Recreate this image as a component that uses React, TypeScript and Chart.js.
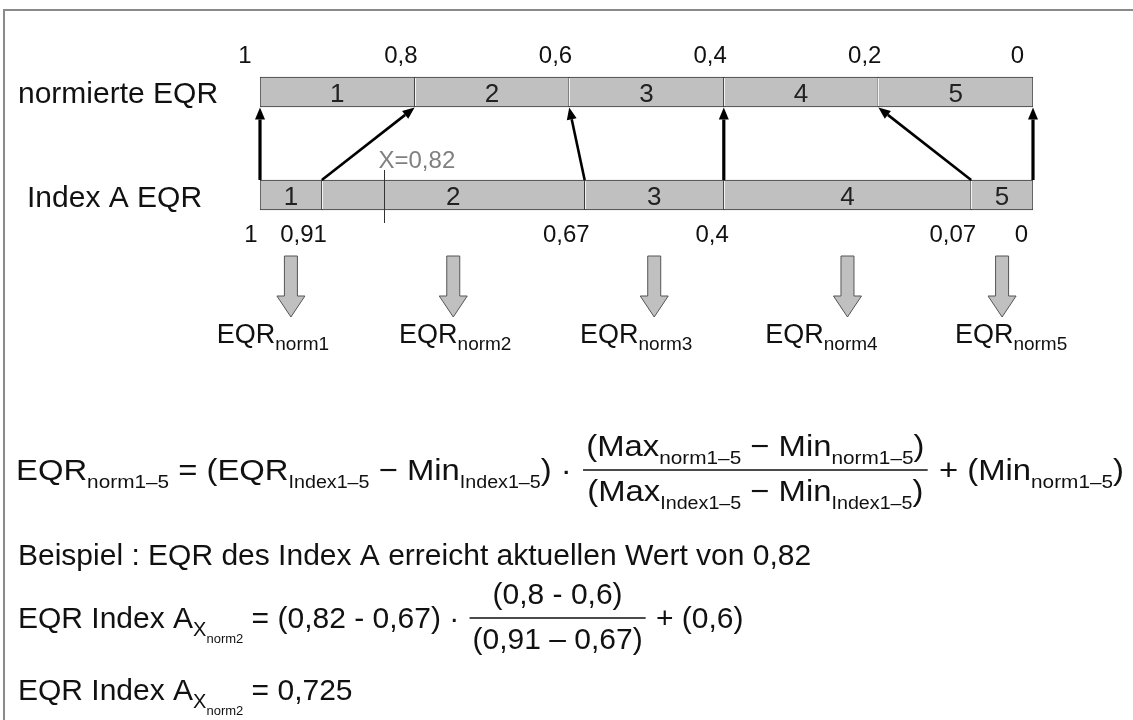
import React, { useEffect, useRef } from 'react';
import { Chart, registerables } from 'chart.js';

Chart.register(...registerables);

// ---------- data ----------
const rowLabels = ['normierte EQR', 'Index A EQR'];
const classLabels = ['1', '2', '3', '4', '5'];
const normLimits = [1, 0.8, 0.6, 0.4, 0.2, 0];
const normLimitLabels = ['1', '0,8', '0,6', '0,4', '0,2', '0'];
// class limits of Index A as drawn (schematic) on the shared EQR axis
const indexLimits = [1, 0.92, 0.58, 0.4, 0.08, 0];
const indexLimitLabels = ['1', '0,91', '0,67', '0,4', '0,07', '0'];
const exampleX = 0.84;
const exampleLabel = 'X=0,82';
const resultSubs = ['norm1', 'norm2', 'norm3', 'norm4', 'norm5'];

const FONT = '"Liberation Sans", Arial, Helvetica, sans-serif';
const INK = '#111111';

type Run = { t: string; s: number; dy?: number; c?: string };
type Item = { runs: Run[] } | { num: Run[]; den: Run[] };

const M = 30;
const S = 19;
const R = (t: string): Run => ({ t, s: M });
const Sb = (t: string, s: number = S, dy: number = 8): Run => ({ t, s, dy });

function setFont(ctx: CanvasRenderingContext2D, s: number) {
  ctx.font = `${s}px ${FONT}`;
}
function runsW(ctx: CanvasRenderingContext2D, runs: Run[]) {
  let w = 0;
  for (const r of runs) {
    setFont(ctx, r.s);
    w += ctx.measureText(r.t).width;
  }
  return w;
}
function drawRunsAt(ctx: CanvasRenderingContext2D, runs: Run[], x: number, y: number) {
  let cx = x;
  for (const r of runs) {
    setFont(ctx, r.s);
    ctx.fillStyle = r.c || INK;
    ctx.fillText(r.t, cx, y + (r.dy || 0));
    cx += ctx.measureText(r.t).width;
  }
  return cx - x;
}
function drawFormula(ctx: CanvasRenderingContext2D, items: Item[], x: number, base: number, fitTo?: number) {
  const pad = 5;
  const widths = items.map((it) =>
    'runs' in it ? runsW(ctx, it.runs) : Math.max(runsW(ctx, it.num), runsW(ctx, it.den)) + 2 * pad
  );
  const total = widths.reduce((a, b) => a + b, 0);
  const sx = fitTo ? (fitTo - x) / total : 1;
  ctx.save();
  ctx.translate(x, base);
  ctx.scale(sx, 1);
  ctx.textAlign = 'left';
  ctx.textBaseline = 'alphabetic';
  let cx = 0;
  items.forEach((it, i) => {
    const w = widths[i];
    if ('runs' in it) {
      drawRunsAt(ctx, it.runs, cx, 0);
    } else {
      const barY = -10;
      ctx.fillStyle = INK;
      ctx.fillRect(cx + 2, barY - 0.75, w - 4, 1.5);
      const nw = runsW(ctx, it.num);
      const dw = runsW(ctx, it.den);
      drawRunsAt(ctx, it.num, cx + (w - nw) / 2, barY - 14);
      drawRunsAt(ctx, it.den, cx + (w - dw) / 2, barY + 31);
    }
    cx += w;
  });
  ctx.restore();
}

function arrow(ctx: CanvasRenderingContext2D, x1: number, y1: number, x2: number, y2: number, lw: number) {
  const ang = Math.atan2(y2 - y1, x2 - x1);
  const hl = 12;
  const hw = 5;
  const bx = x2 - hl * Math.cos(ang);
  const by = y2 - hl * Math.sin(ang);
  ctx.strokeStyle = '#000';
  ctx.fillStyle = '#000';
  ctx.lineWidth = lw;
  ctx.beginPath();
  ctx.moveTo(x1, y1);
  ctx.lineTo(bx, by);
  ctx.stroke();
  ctx.beginPath();
  ctx.moveTo(x2, y2);
  ctx.lineTo(bx + hw * Math.sin(ang), by - hw * Math.cos(ang));
  ctx.lineTo(bx - hw * Math.sin(ang), by + hw * Math.cos(ang));
  ctx.closePath();
  ctx.fill();
}

function blockArrow(ctx: CanvasRenderingContext2D, cx: number, top: number, tip: number) {
  const sh = 6.5;
  const hh = 14;
  const hs = tip - 21;
  ctx.beginPath();
  ctx.moveTo(cx - sh, top);
  ctx.lineTo(cx + sh, top);
  ctx.lineTo(cx + sh, hs);
  ctx.lineTo(cx + hh, hs);
  ctx.lineTo(cx, tip);
  ctx.lineTo(cx - hh, hs);
  ctx.lineTo(cx - sh, hs);
  ctx.closePath();
  ctx.fillStyle = '#c0c0c0';
  ctx.fill();
  ctx.strokeStyle = '#555';
  ctx.lineWidth = 1;
  ctx.stroke();
}

const diagramPlugin = {
  id: 'eqrDiagram',
  beforeDraw(chart: any) {
    const ctx: CanvasRenderingContext2D = chart.ctx;
    ctx.save();
    ctx.fillStyle = '#ffffff';
    ctx.fillRect(0, 0, chart.width, chart.height);
    ctx.strokeStyle = '#8a8a8a';
    ctx.lineWidth = 2;
    ctx.beginPath();
    ctx.moveTo(4, chart.height);
    ctx.lineTo(4, 10);
    ctx.lineTo(chart.width, 10);
    ctx.stroke();
    ctx.restore();
  },
  afterDatasetsDraw(chart: any) {
    const ctx: CanvasRenderingContext2D = chart.ctx;
    const xs = chart.scales.x;
    const px = (v: number) => xs.getPixelForValue(v);
    const nEl = chart.getDatasetMeta(0).data[0];
    const iEl = chart.getDatasetMeta(0).data[1];
    const nTop = nEl.y - nEl.height / 2;
    const nBot = nEl.y + nEl.height / 2;
    const iTop = iEl.y - iEl.height / 2;
    const iBot = iEl.y + iEl.height / 2;
    ctx.save();

    // light highlight next to inner dividers
    ctx.strokeStyle = '#f2f2f2';
    ctx.lineWidth = 1;
    for (let k = 1; k < normLimits.length - 1; k++) {
      const p = Math.round(px(normLimits[k])) + 0.5;
      ctx.beginPath();
      ctx.moveTo(p, nTop + 1);
      ctx.lineTo(p, nBot - 1);
      ctx.stroke();
    }
    for (let k = 1; k < indexLimits.length - 1; k++) {
      const p = Math.round(px(indexLimits[k])) + 0.5;
      ctx.beginPath();
      ctx.moveTo(p, iTop + 1);
      ctx.lineTo(p, iBot - 1);
      ctx.stroke();
    }

    // class numbers inside the bars
    ctx.textAlign = 'center';
    ctx.textBaseline = 'alphabetic';
    ctx.fillStyle = '#222';
    setFont(ctx, 26);
    classLabels.forEach((c, i) => {
      ctx.fillText(c, (px(normLimits[i]) + px(normLimits[i + 1])) / 2, nEl.y + 9.5);
      ctx.fillText(c, (px(indexLimits[i]) + px(indexLimits[i + 1])) / 2, iEl.y + 9.5);
    });

    // row labels
    ctx.textAlign = 'left';
    ctx.fillStyle = INK;
    setFont(ctx, 30);
    ctx.fillText(rowLabels[0], 18, nEl.y + 10.5);
    ctx.fillText(rowLabels[1], 27, iEl.y + 12);

    // limit labels
    setFont(ctx, 24);
    const last = normLimits.length - 1;
    normLimitLabels.forEach((t, k) => {
      const p = px(normLimits[k]);
      if (k === 0) {
        ctx.textAlign = 'center';
        ctx.fillText(t, p - 15, nTop - 14);
      } else if (k === last) {
        ctx.textAlign = 'right';
        ctx.fillText(t, p - 9, nTop - 14);
      } else {
        ctx.textAlign = 'right';
        ctx.fillText(t, p + 3, nTop - 14);
      }
    });
    indexLimitLabels.forEach((t, k) => {
      const p = px(indexLimits[k]);
      if (k === 0) {
        ctx.textAlign = 'center';
        ctx.fillText(t, p - 9, iBot + 32);
      } else if (k === last) {
        ctx.textAlign = 'right';
        ctx.fillText(t, p - 5, iBot + 32);
      } else {
        ctx.textAlign = 'right';
        ctx.fillText(t, p + 5, iBot + 32);
      }
    });

    // mapping arrows
    for (let k = 0; k < normLimits.length; k++) {
      const x1 = px(indexLimits[k]);
      const x2 = px(normLimits[k]);
      const vertical = Math.abs(x1 - x2) < 1.5;
      arrow(ctx, x1, iTop, x2, nBot + 0.5, vertical ? 3.2 : 2.6);
    }

    // example marker
    const mx = Math.round(px(exampleX)) + 0.5;
    ctx.strokeStyle = '#333';
    ctx.lineWidth = 1;
    ctx.beginPath();
    ctx.moveTo(mx, iTop - 10);
    ctx.lineTo(mx, iBot + 13);
    ctx.stroke();
    ctx.fillStyle = '#808080';
    ctx.textAlign = 'left';
    setFont(ctx, 24);
    ctx.fillText(exampleLabel, mx - 6, iTop - 12);

    // down block arrows and result labels
    const shifts = [-18, 2, -18, -26, 9];
    classLabels.forEach((c, i) => {
      const cx = (px(indexLimits[i]) + px(indexLimits[i + 1])) / 2;
      blockArrow(ctx, cx, iBot + 46, iBot + 107);
      const runs: Run[] = [
        { t: 'EQR', s: 27 },
        { t: resultSubs[i], s: 19, dy: 7 },
      ];
      const w = runsW(ctx, runs);
      ctx.textAlign = 'left';
      drawRunsAt(ctx, runs, cx + shifts[i] - w / 2, iBot + 133);
    });

    // ---- formulas ----
    const line1: Item[] = [
      {
        runs: [R('EQR'), Sb('norm1–5'), R(' = (EQR'), Sb('Index1–5', 18), R(' − Min'), Sb('Index1–5', 18), R(') · ')],
      },
      {
        num: [R('(Max'), Sb('norm1–5'), R(' − Min'), Sb('norm1–5'), R(')')],
        den: [R('(Max'), Sb('Index1–5', 18), R(' − Min'), Sb('Index1–5', 18), R(')')],
      },
      { runs: [R(' + (Min'), Sb('norm1–5'), R(')')] },
    ];
    drawFormula(ctx, line1, 16, 480, 1124);

    drawFormula(ctx, [{ runs: [R('Beispiel : EQR des Index A erreicht aktuellen Wert von 0,82')] }], 18, 565);

    const prefix: Run[] = [R('EQR Index A'), Sb('X', 20, 8), { t: 'norm2', s: 13, dy: 15 }];
    const line3: Item[] = [
      { runs: [...prefix, R(' = (0,82 - 0,67) · ')] },
      { num: [R('(0,8 - 0,6)')], den: [R('(0,91 – 0,67)')] },
      { runs: [R(' + (0,6)')] },
    ];
    drawFormula(ctx, line3, 18, 628);
    drawFormula(ctx, [{ runs: [...prefix, R(' = 0,725')] }], 18, 700);

    ctx.restore();
  },
};

export default function App() {
  const ref = useRef<HTMLCanvasElement | null>(null);
  useEffect(() => {
    if (!ref.current) return;
    const chart = new Chart(ref.current, {
      type: 'bar',
      data: {
        labels: rowLabels,
        datasets: classLabels.map((c, i) => ({
          label: 'Klasse ' + c,
          data: [
            [normLimits[i + 1], normLimits[i]],
            [indexLimits[i + 1], indexLimits[i]],
          ] as any,
          backgroundColor: '#c0c0c0',
          borderColor: '#3a3a3a',
          borderWidth: 1,
          borderSkipped: false,
          grouped: false,
          barThickness: 30,
        })),
      },
      options: {
        indexAxis: 'y',
        responsive: false,
        animation: false,
        devicePixelRatio: 1,
        events: [],
        layout: { padding: { left: 260, right: 100, top: 40.5, bottom: 473.5 } },
        scales: {
          x: { type: 'linear', min: 0, max: 1, reverse: true, display: false },
          y: { type: 'category', display: false, offset: true },
        },
        plugins: {
          legend: { display: false },
          tooltip: { enabled: false },
          title: { display: false },
        },
      } as any,
      plugins: [diagramPlugin as any],
    });
    return () => chart.destroy();
  }, []);
  return (
    <div style={{ position: 'absolute', left: 0, top: 0, width: 1133, height: 720, background: '#fff' }}>
      <canvas ref={ref} width={1133} height={720} style={{ display: 'block' }} />
    </div>
  );
}
